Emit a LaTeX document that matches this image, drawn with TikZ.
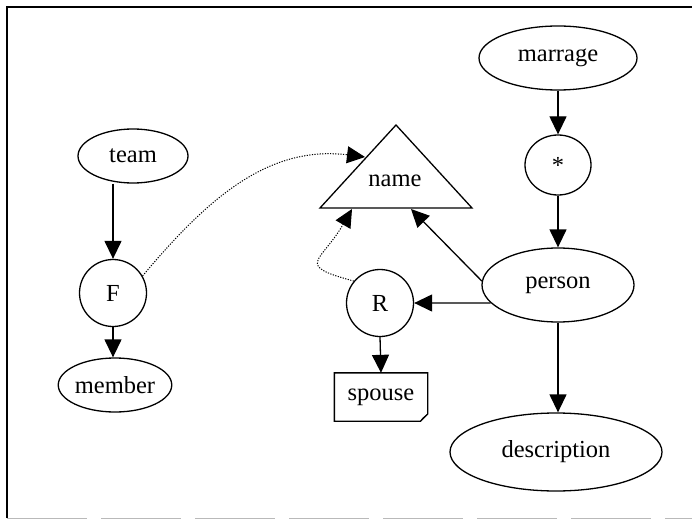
\documentclass[tikz,border=0pt]{standalone}
\usepackage{fontspec}
\setmainfont{Liberation Serif}
\usetikzlibrary{shapes.geometric,arrows.meta}
\begin{document}
\begin{tikzpicture}[x=1pt,y=1pt,line width=1.3pt,
	every node/.style={font=\fontsize{24.5}{29}\selectfont,inner sep=0pt},
	entity/.style={draw,ellipse},
	op/.style={draw,circle,minimum size=67pt},
	arr/.style={-{Triangle[length=18pt,width=17pt]}},
	ref/.style={arr,line width=1pt,dash pattern=on 1.2pt off 1.4pt}]
	\useasboundingbox (0,0) rectangle (692,-521);
	\draw (7,-518) -- (7,-7) -- (692,-7);
	\draw[gray!55,line width=1pt,dash pattern=on 80pt off 14pt] (7,-518) -- (692,-518);
	\node[entity,minimum width=110pt,minimum height=54pt] (team) at (133,-156) {team};
	\node[op] (F) at (113,-293) {F};
	\node[entity,minimum width=110pt,minimum height=54pt] (member) at (115,-385) {member};
	\coordinate (apex) at (396,-125);
	\coordinate (baseL) at (320,-208);
	\coordinate (baseR) at (472,-208);
	\draw[line join=miter] (apex) -- (baseL) -- (baseR) -- cycle;
	\node (name) at (395,-181) {name};
	\coordinate (nameF) at (365,-157);
	\coordinate (nameR) at (352,-209);
	\coordinate (nameP) at (411,-209);
	\node[entity,minimum width=158pt,minimum height=64pt] (marrage) at (558,-58) {marrage};
	\node[draw,ellipse,minimum width=66pt,minimum height=60pt] (star) at (558,-165) {*};
	\node[entity,minimum width=152pt,minimum height=74pt] (person) at (558,-285) {person};
	\node[entity,minimum width=212pt,minimum height=78pt] (description) at (556,-452) {description};
	\node[op] (R) at (380,-303) {R};
	\node[minimum width=92pt,minimum height=47pt] (spouse) at (381,-397) {spouse};
	\draw (spouse.north west) -- (spouse.north east) -- ([yshift=7pt]spouse.south east) -- ([xshift=-7pt]spouse.south east) -- (spouse.south west) -- cycle;
	\draw[line width=0.8pt] ([yshift=7pt]spouse.south east) -- ([xshift=-5pt,yshift=3pt]spouse.south east) -- ([xshift=-7pt]spouse.south east);
	\draw[arr] (team.south -| F.north) -- (F.north);
	\draw[arr] (F.south) -- (F.south |- member.north);
	\draw[ref] (F.30) to[out=50,in=173] (nameF);
	\draw[arr] (marrage.south) -- (star.north);
	\draw[arr] (star.south) -- (person.north);
	\draw[arr] (person.177) -- (nameP);
	\draw[arr] (person.195) -- (R.east);
	\draw[arr] (person.south) -- (person.south |- description.north);
	\draw[arr] (R.south) -- (spouse.north);
	\draw[ref] (R.140) to[out=165,in=240,looseness=2.2] (nameR);
\end{tikzpicture}
\end{document}
